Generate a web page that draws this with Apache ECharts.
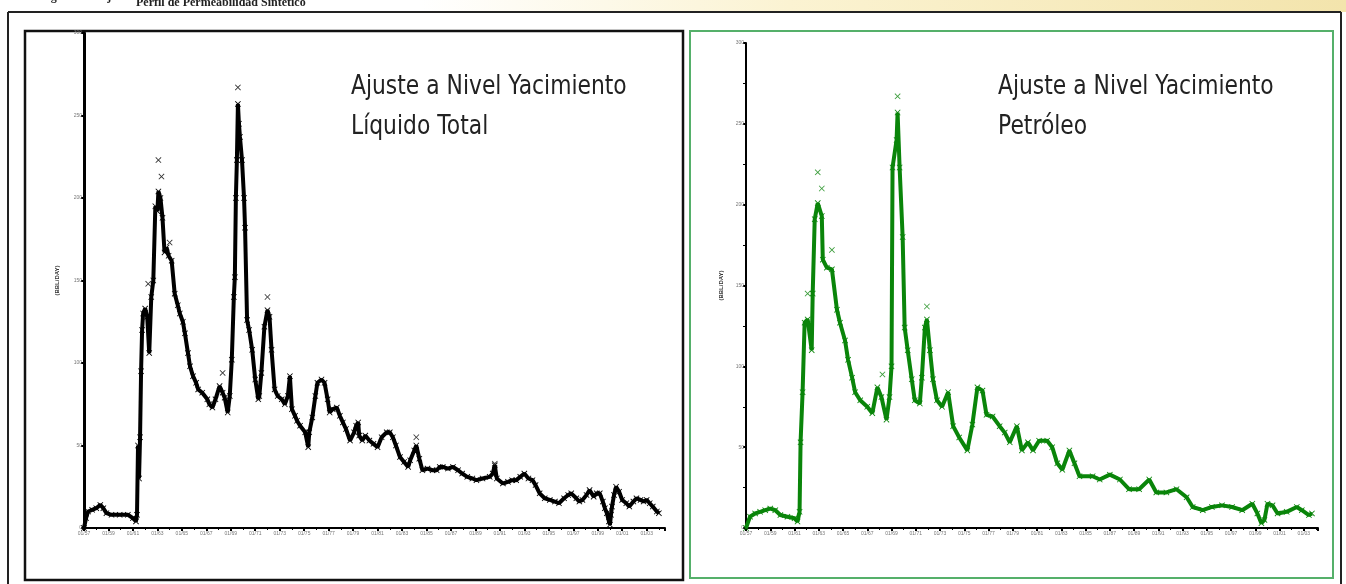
<!DOCTYPE html>
<html><head><meta charset="utf-8">
<script src="https://cdn.jsdelivr.net/npm/echarts@6/dist/echarts.min.js"></script>
<style>html,body{margin:0;padding:0;background:#fff;}#c{width:1346px;height:584px;}</style>
</head><body><div id="c"></div>
<script>
// x values are months since Jan 1957
const xTickLabels = ['01/57','01/59','01/61','01/63','01/65','01/67','01/69','01/71','01/73','01/75','01/77','01/79','01/81','01/83','01/85','01/87','01/89','01/91','01/93','01/95','01/97','01/99','01/01','01/03'];
const yTickLabels = ['0','50','100','150','200','250','300'];
const panelTitles = ['Ajuste a Nivel Yacimiento', 'Líquido Total', 'Petróleo'];
const yAxisName = '(BBL/DAY)';

const liquidTotal = [
[0,0],[2,6],[4,10],[8,11],[12,12],[16,14],[19,12],[22,9],[27,8],[35,8],[43,8],[48,6],[51,4],[52,8],[53,50],[54,30],[55,55],[56,95],[57,120],[58,130],[60,133],[62,128],[64,106],[66,140],[68,150],[70,195],[72,192],[73,204],[75,200],[77,188],[79,167],[81,170],[83,165],[86,162],[89,142],[92,135],[94,130],[97,125],[99,118],[102,106],[104,98],[107,92],[110,88],[112,84],[116,82],[121,78],[123,75],[126,73],[129,78],[133,86],[136,82],[138,79],[141,70],[143,80],[145,102],[147,140],[148,152],[149,200],[150,223],[151,257],[152,245],[153,237],[155,223],[157,200],[158,182],[160,126],[162,120],[165,108],[168,90],[171,78],[172,80],[174,94],[177,122],[180,132],[182,128],[184,108],[187,84],[190,80],[194,78],[197,75],[200,80],[202,92],[204,72],[207,68],[209,65],[212,62],[217,58],[220,49],[221,58],[224,67],[227,80],[229,88],[233,90],[236,88],[239,78],[241,70],[244,72],[248,73],[251,68],[254,64],[257,60],[261,53],[265,58],[267,62],[269,64],[270,56],[273,53],[276,56],[280,53],[284,51],[288,49],[292,55],[297,58],[300,58],[303,55],[306,50],[310,43],[314,40],[318,37],[320,41],[324,47],[326,50],[329,42],[332,35],[337,36],[342,35],[346,35],[349,37],[352,37],[357,36],[362,37],[367,35],[371,33],[376,31],[381,30],[385,29],[391,30],[398,31],[401,33],[403,38],[405,30],[411,27],[416,28],[420,29],[424,29],[428,31],[432,33],[436,30],[440,29],[443,26],[447,21],[452,18],[457,17],[462,16],[466,15],[471,18],[475,20],[478,21],[483,18],[486,16],[489,17],[493,20],[496,23],[500,19],[503,21],[506,21],[509,16],[511,12],[513,9],[515,4],[516,2],[517,8],[518,13],[520,20],[522,25],[525,22],[528,17],[532,15],[535,13],[539,16],[542,18],[546,17],[549,16],[552,17],[555,15],[558,13],[562,10],[564,9]
];
const liquidMarks = [[63,148],[73,223],[76,213],[84,173],[151,267],[180,140],[136,94],[326,55],[403,39]];

const oil = [
[0,0],[4,7],[9,9],[14,10],[19,11],[24,12],[29,11],[34,8],[41,7],[48,6],[51,4],[53,10],[54,53],[56,84],[58,127],[61,129],[65,110],[66,145],[68,191],[71,201],[75,193],[76,166],[80,161],[85,160],[90,135],[93,127],[98,116],[101,104],[105,93],[108,84],[113,79],[120,75],[125,71],[130,87],[134,81],[139,67],[142,81],[144,100],[145,223],[149,240],[150,257],[152,223],[155,180],[157,124],[160,110],[164,92],[167,79],[172,77],[174,93],[177,124],[179,129],[182,110],[185,92],[189,79],[194,75],[200,84],[205,63],[211,56],[219,48],[224,64],[229,87],[234,85],[238,70],[244,69],[251,63],[256,59],[261,53],[268,63],[273,48],[279,53],[284,48],[290,54],[298,54],[303,50],[308,40],[313,36],[320,48],[325,40],[330,32],[343,32],[350,30],[360,33],[370,30],[379,24],[389,24],[399,30],[406,22],[416,22],[426,24],[436,19],[442,13],[452,11],[461,13],[471,14],[481,13],[491,11],[501,15],[506,9],[510,3],[513,5],[516,15],[521,14],[526,9],[535,10],[545,13],[550,11],[557,8],[560,9]
];
const oilMarks = [[61,145],[71,220],[75,210],[85,172],[135,95],[150,267],[179,137]];

const chart = echarts.init(document.getElementById('c'), null, {renderer:'canvas'});
const X_SYM = 'path://M0,1L1,0L5,4L9,0L10,1L6,5L10,9L9,10L5,6L1,10L0,9L4,5Z';

function xAxisCfg(gi, max){
  return {type:'value', gridIndex:gi, min:0, max:max, interval:24,
    axisLine:{show:true, lineStyle:{color:'#000', width:2}},
    axisTick:{show:true, length:3, inside:false, lineStyle:{color:'#000', width:2}},
    minorTick:{show:true, splitNumber:2, length:2, lineStyle:{color:'#000'}},
    splitLine:{show:false},
    axisLabel:{show:true, showMaxLabel:false, fontSize:5, color:'#777', margin:3,
      formatter:v => (v % 24 === 0 && xTickLabels[v/24]) ? xTickLabels[v/24] : ''}};
}
function yAxisCfg(gi, minor){
  return {type:'value', gridIndex:gi, min:0, max:300, interval:50,
    axisLine:{show:true, lineStyle:{color:'#000', width:gi===0?3:2}},
    axisTick:{show:true, length:3, lineStyle:{color:'#000', width:2}},
    minorTick:{show:minor, splitNumber:2, length:3, lineStyle:{color:'#000'}},
    splitLine:{show:false},
    axisLabel:{fontSize:5, color:'#777', margin:2, formatter:v => yTickLabels[v/50]},
    name:yAxisName, nameLocation:'middle', nameRotate:90, nameGap:gi===0?24:22,
    nameTextStyle:{fontSize:6, color:'#333', fontWeight:'bold'}};
}

function titleText(x, y, t){
  return {type:'text', left:x, top:y, style:{text:t, font:'23px "DejaVu Sans"', fill:'#222'}, scaleX:0.95, scaleY:1.15};
}

chart.setOption({
  animation:false,
  backgroundColor:'#fff',
  grid:[
    {left:84, top:33, width:581, height:495},
    {left:746, top:43, width:572, height:485}
  ],
  xAxis:[xAxisCfg(0, 570), xAxisCfg(1, 566)],
  yAxis:[yAxisCfg(0, false), yAxisCfg(1, true)],
  series:[
    {type:'line', xAxisIndex:0, yAxisIndex:0, data:liquidTotal, showSymbol:true, symbol:X_SYM, symbolSize:6, itemStyle:{color:'#000'}, lineStyle:{color:'#000', width:4}, z:3},
    {type:'scatter', xAxisIndex:0, yAxisIndex:0, data:liquidMarks, symbol:X_SYM, symbolSize:6, itemStyle:{color:'#000'}, z:4},
    {type:'line', xAxisIndex:1, yAxisIndex:1, data:oil, showSymbol:true, symbol:X_SYM, symbolSize:6, itemStyle:{color:'#0a850a'}, lineStyle:{color:'#0a850a', width:4}, z:3},
    {type:'scatter', xAxisIndex:1, yAxisIndex:1, data:oilMarks, symbol:X_SYM, symbolSize:6, itemStyle:{color:'#0a850a'}, z:4}
  ],
  graphic:[
    {type:'rect', z:-10, shape:{x:420, y:0, width:926, height:12}, style:{fill:new echarts.graphic.LinearGradient(0,0,1,0,[{offset:0,color:'#ffffff'},{offset:0.4,color:'#fbf3d2'},{offset:1,color:'#f3e4ac'}])}},
    {type:'text', left:40, top:-9, style:{text:'Figura 4.2. Ajuste Histórico del Modelo', font:'bold 12px "Liberation Serif"', fill:'#222'}},
    {type:'text', left:136, top:-3, style:{text:'Perfil de Permeabilidad Sintético', font:'bold 12px "Liberation Serif"', fill:'#222'}},
    {type:'line', shape:{x1:8, y1:12, x2:1341, y2:12}, style:{stroke:'#222', lineWidth:2}},
    {type:'line', shape:{x1:8, y1:12, x2:8, y2:584}, style:{stroke:'#222', lineWidth:2}},
    {type:'line', shape:{x1:1341, y1:12, x2:1341, y2:584}, style:{stroke:'#222', lineWidth:2}},
    {type:'rect', shape:{x:25, y:31, width:658, height:549}, style:{fill:'none', stroke:'#111', lineWidth:2.5}},
    {type:'rect', shape:{x:690, y:31, width:643, height:547}, style:{fill:'none', stroke:'#55b06a', lineWidth:2}},
    titleText(351, 74, panelTitles[0]),
    titleText(351, 114, panelTitles[1]),
    titleText(998, 74, panelTitles[0]),
    titleText(998, 114, panelTitles[2])
  ]
});
</script></body></html>
